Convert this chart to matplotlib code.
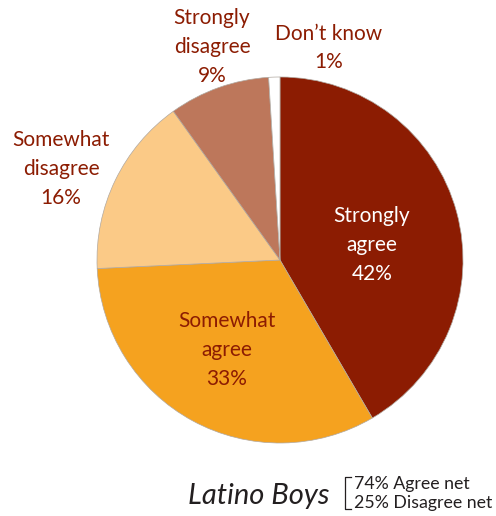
import matplotlib.pyplot as plt
from matplotlib.lines import Line2D

categories = ["Strongly\nagree", "Somewhat\nagree", "Somewhat\ndisagree", "Strongly\ndisagree", "Don\u2019t know"]
values = [42, 33, 16, 9, 1]
colors = ["#8c1c02", "#f5a21f", "#fbca87", "#bd775b", "#ffffff"]
label_colors = ["white", "#8c1c02", "#8c1c02", "#8c1c02", "#8c1c02"]
# label anchor positions (pixels) and alignment
label_pos = [(372, 245, "center"), (227, 350, "center"), (61, 169, "center"),
             (212, 47, "center"), (275, 48, "left")]
group_name = "Latino Boys"
net_lines = ["74% Agree net", "25% Disagree net"]

plt.rcParams['font.family'] = ['Lato', 'DejaVu Sans']

W, H = 496, 516
fig = plt.figure(figsize=(W / 100, H / 100), dpi=100)
cx, cy, r = 280, 260, 183
ax = fig.add_axes([(cx - r) / W, (H - cy - r) / H, 2 * r / W, 2 * r / H])
ax.pie(values, colors=colors, startangle=90, counterclock=False,
       wedgeprops=dict(edgecolor="#b0a8a0", linewidth=0.5))
ax.set_xlim(-1, 1)
ax.set_ylim(-1, 1)
ax.set_aspect("equal")
ax.axis("off")

for cat, v, (px, py, ha), c in zip(categories, values, label_pos, label_colors):
    fig.text(px / W, 1 - py / H, f"{cat}\n{v}%", color=c, fontsize=15,
             ha=ha, va="center", linespacing=1.55, multialignment="center")

fig.text(330 / W, 1 - 496 / H, group_name, fontsize=21, style="italic",
         color="#231f20", ha="right", va="center")
bx0, bx1 = 345 / W, 351 / W
by0, by1 = 1 - 477 / H, 1 - 509 / H
fig.add_artist(Line2D([bx1, bx0, bx0, bx1], [by0, by0, by1, by1],
                      color="#231f20", linewidth=0.9, transform=fig.transFigure))
fig.text(354 / W, 1 - 484 / H, net_lines[0], fontsize=12.8, color="#231f20", va="center")
fig.text(354 / W, 1 - 503 / H, net_lines[1], fontsize=12.8, color="#231f20", va="center")

fig.savefig("out.png", dpi=100, facecolor="white")
